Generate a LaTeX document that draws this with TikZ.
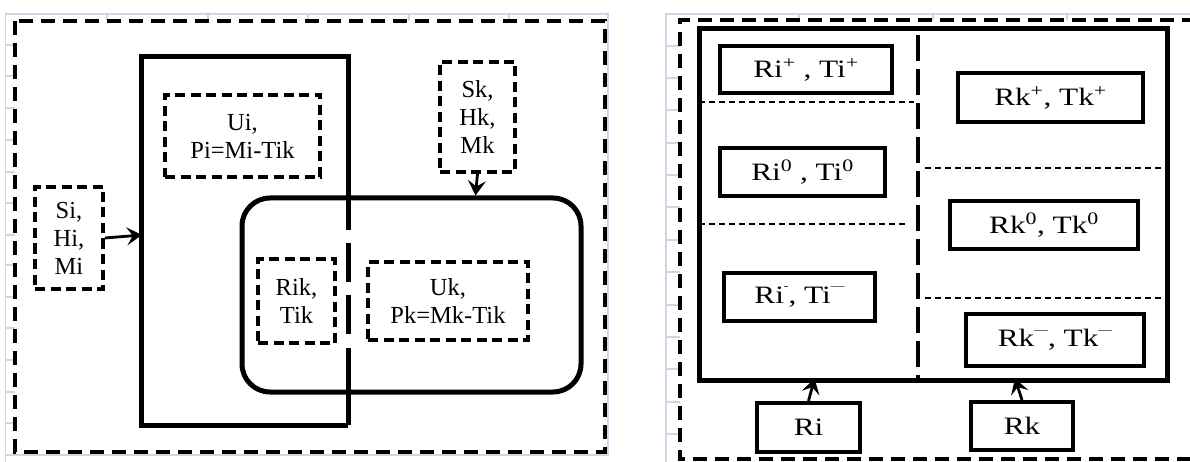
\documentclass[tikz,border=0pt]{standalone}
\usepackage{fontspec}
\setmainfont{Liberation Serif}
\newfontfamily\wideserif[FakeStretch=1.25]{Liberation Serif}
\usetikzlibrary{arrows.meta}
\definecolor{gridc}{RGB}{205,214,228}
\newcommand{\supbar}{\raisebox{13.5pt}{\fontsize{11}{11}\selectfont —}}
\newcommand{\supdash}{\raisebox{13.5pt}{\fontsize{11}{11}\selectfont -}}
\begin{document}
\begin{tikzpicture}[x=1pt,y=-1pt,
  gridline/.style={draw=gridc, line width=1.3pt},
  outerdash/.style={draw, line width=4pt, dash pattern=on 14pt off 8pt},
  dbox/.style={draw, line width=3.8pt, dash pattern=on 10pt off 5.5pt, inner sep=0pt, align=center, font=\fontsize{24.5}{28}\selectfont},
  sbox/.style={draw, line width=4pt, inner sep=0pt, font=\wideserif\fontsize{25}{30}\selectfont},
  heavy/.style={line width=5pt},
  divline/.style={line width=4.5pt, dash pattern=on 26pt off 8pt},
  thindash/.style={line width=2.2pt, dash pattern=on 6pt off 4pt},
  arr/.style={line width=2.8pt, -{Stealth[length=15pt,width=18pt,inset=6pt]}}
]
\useasboundingbox (0,0) rectangle (1190,462);
% faint background frames
\draw[gridline] (5.7,462) -- (5.7,14) -- (608,14) -- (608,455) -- (5.7,455);
\foreach \yy in {45,76,108,140,172,203,235,265,297,328,360,392,423}
  \draw[gridline] (5.7,\yy) -- (15,\yy);
\foreach \xx in {107,208,308,409,509}
  \draw[gridline] (\xx,14) -- (\xx,21);
\draw[gridline] (666,462) -- (666,14) -- (1190,14);
\foreach \yy in {46,78,110,143,175,207,240,272,305,337,369,402,434}
  \draw[gridline] (666,\yy) -- (680,\yy);
\foreach \xx in {799,933,1067}
  \draw[gridline] (\xx,14) -- (\xx,20);

% ---------- left panel ----------
\draw[outerdash] (15,21) rectangle (605,452);
\node[minimum width=206pt, minimum height=368pt, inner sep=0pt] (ibox) at (245,241) {};
\draw[heavy] (ibox.south east) -- (ibox.south west) -- (ibox.north west) -- (ibox.north east) -- ++(0,173);
\draw[heavy] (ibox.north east) ++(0,186) -- ++(0,39);
\draw[heavy] (ibox.north east) ++(0,238) -- ++(0,39);
\draw[heavy] (ibox.south east) -- ++(0,-77);
\node[draw, heavy, rounded corners=28pt, minimum width=339pt, minimum height=194pt] (rr) at (411.5,295) {};

\node[dbox, minimum width=155pt, minimum height=82pt] (ui) at (242.5,136) {Ui,\\Pi=Mi-Tik};
\node[dbox, minimum width=68pt, minimum height=102pt] (si) at (69,238) {Si,\\Hi,\\Mi};
\node[dbox, minimum width=75pt, minimum height=110pt] (sk) at (477.5,117) {Sk,\\Hk,\\Mk};
\node[dbox, minimum width=77pt, minimum height=84pt] (rik) at (296.5,301) {Rik,\\Tik};
\node[dbox, minimum width=160pt, minimum height=78pt] (uk) at (448,301) {Uk,\\Pk=Mk-Tik};

\draw[arr] (si.east) -- ([yshift=3pt]si.east -| ibox.west);
\draw[arr] (sk.south) -- ([xshift=-2pt]sk.south |- rr.north);

% ---------- right panel ----------
\draw[outerdash] (1196,20) -- (680,20) -- (680,459) -- (1196,459);
\node[draw, heavy, minimum width=468pt, minimum height=351pt, inner sep=0pt] (big) at (933,204.5) {};
\coordinate (dtop) at (918,35);
\coordinate (dbot) at (918,380);
\draw[divline] (dtop) -- (dbot);
\coordinate (h1a) at (699,102); \coordinate (h1b) at (914,102);
\coordinate (h2a) at (699,224); \coordinate (h2b) at (908,224);
\coordinate (h3a) at (925,168); \coordinate (h3b) at (1166,168);
\coordinate (h4a) at (925,298); \coordinate (h4b) at (1166,298);
\draw[thindash] (h1a) -- (h1b);
\draw[thindash] (h2a) -- (h2b);
\draw[thindash] (h3a) -- (h3b);
\draw[thindash] (h4a) -- (h4b);

\node[sbox, minimum width=172pt, minimum height=47pt] (rip) at (806,69.5) {Ri\textsuperscript{+} , Ti\textsuperscript{+}};
\node[sbox, minimum width=165pt, minimum height=48pt] (ri0) at (802.5,172) {Ri\textsuperscript{0} , Ti\textsuperscript{0}};
\node[sbox, minimum width=151pt, minimum height=48pt] (rim) at (799.5,297) {Ri\supdash, Ti\supbar};
\node[sbox, minimum width=185pt, minimum height=49pt] (rkp) at (1050.5,97.5) {Rk\textsuperscript{+}, Tk\textsuperscript{+}};
\node[sbox, minimum width=188pt, minimum height=48pt] (rk0) at (1044,225) {Rk\textsuperscript{0}, Tk\textsuperscript{0}};
\node[sbox, minimum width=178pt, minimum height=52pt] (rkm) at (1055,340) {Rk\supbar, Tk\supbar};
\node[sbox, minimum width=103pt, minimum height=49pt] (ri) at (808.5,427.5) {Ri};
\node[sbox, minimum width=102pt, minimum height=48pt] (rk) at (1022,426) {Rk};

\draw[arr] (ri.north) -- ([xshift=6pt,yshift=4pt]ri.north |- big.south);
\draw[arr] (rk.north) -- ([xshift=-7pt,yshift=4pt]rk.north |- big.south);
\end{tikzpicture}
\end{document}
